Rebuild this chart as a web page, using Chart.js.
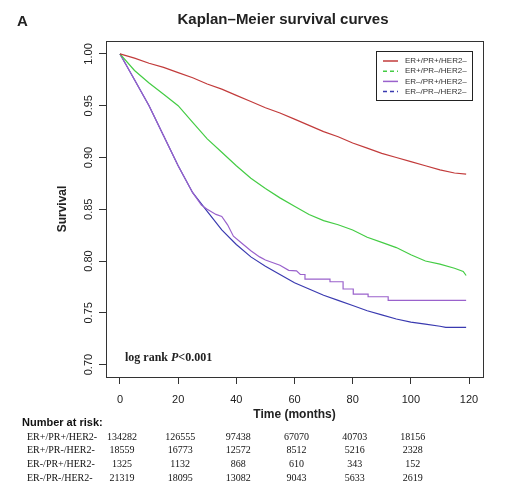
<!DOCTYPE html>
<html>
<head>
<meta charset="utf-8">
<script src="https://cdn.jsdelivr.net/npm/chart.js@4"></script>
<style>
  html, body { margin: 0; padding: 0; background: #fff; }
  #wrap { width: 505px; height: 489px; }
</style>
</head>
<body>
<div id="wrap"><canvas id="km"></canvas></div>
<script>
// Survival estimates (months, survival)
const redT = [0, 5, 10, 15, 20, 25, 30, 35, 40, 45, 50, 55, 60, 65, 70, 75, 80, 85, 90, 95, 100, 105, 110, 115, 119];
const redS = [1.0, 0.996, 0.991, 0.987, 0.982, 0.977, 0.971, 0.966, 0.960, 0.954, 0.948, 0.943, 0.937, 0.931, 0.925, 0.920, 0.914, 0.909, 0.904, 0.900, 0.896, 0.892, 0.888, 0.885, 0.884];

const greenT = [0, 5, 10, 15, 20, 25, 30, 35, 40, 45, 50, 55, 60, 65, 70, 75, 80, 85, 90, 95, 100, 105, 110, 115, 118, 119];
const greenS = [1.0, 0.984, 0.972, 0.961, 0.950, 0.934, 0.918, 0.905, 0.892, 0.880, 0.870, 0.861, 0.853, 0.845, 0.839, 0.835, 0.830, 0.823, 0.818, 0.813, 0.806, 0.800, 0.797, 0.793, 0.790, 0.786];

// purple has visible jumps late on: repeated times mark the vertical drops
const purpleT = [0, 2, 5, 10, 15, 20, 25, 28, 30, 33, 35, 37, 39, 42, 45, 48, 50, 55, 58, 60.7, 62, 63.6, 63.6, 72.2, 72.2, 76.7, 76.7, 80.2, 80.2, 85.3, 85.3, 92.2, 92.2, 119];
const purpleS = [1.0, 0.99, 0.975, 0.950, 0.921, 0.892, 0.866, 0.854, 0.850, 0.845, 0.843, 0.835, 0.824, 0.817, 0.810, 0.804, 0.801, 0.796, 0.791, 0.7905, 0.787, 0.787, 0.7825, 0.7825, 0.780, 0.780, 0.773, 0.773, 0.768, 0.768, 0.7655, 0.7655, 0.762, 0.762];

const blueT = [0, 2, 5, 10, 15, 20, 25, 30, 35, 40, 45, 50, 55, 60, 65, 70, 75, 80, 85, 90, 95, 100, 105, 110, 112, 119];
const blueS = [1.0, 0.99, 0.975, 0.950, 0.921, 0.892, 0.866, 0.848, 0.830, 0.816, 0.804, 0.795, 0.787, 0.779, 0.773, 0.767, 0.762, 0.757, 0.752, 0.748, 0.744, 0.741, 0.739, 0.737, 0.736, 0.736];

const groups = ["ER+/PR+/HER2-", "ER+/PR-/HER2-", "ER-/PR+/HER2-", "ER-/PR-/HER2-"];
const legendLabels = ["ER+/PR+/HER2\u2013", "ER+/PR\u2013/HER2\u2013", "ER\u2013/PR+/HER2\u2013", "ER\u2013/PR\u2013/HER2\u2013"];
const colors = ["#c23b3b", "#44cc44", "#9a62cc", "#3a3ab0"];
const legendDash = [[], [4, 3], [], [4, 3]];

const xTicks = [0, 20, 40, 60, 80, 100, 120];
const yTicks = [0.70, 0.75, 0.80, 0.85, 0.90, 0.95, 1.00];

// Number at risk table
const riskTimes = [0, 20, 40, 60, 80, 100];
const riskRed = [134282, 126555, 97438, 67070, 40703, 18156];
const riskGreen = [18559, 16773, 12572, 8512, 5216, 2328];
const riskPurple = [1325, 1132, 868, 610, 343, 152];
const riskBlue = [21319, 18095, 13082, 9043, 5633, 2619];

const pts = (t, s) => t.map((v, i) => ({ x: v, y: s[i] }));
const sans = "'Liberation Sans', Arial, sans-serif";
const serif = "'Liberation Serif', 'Times New Roman', serif";

// Draws the R-like frame, titles, legend and at-risk table
const decorations = {
  id: "decorations",
  afterDraw(chart) {
    const { ctx, chartArea: a, scales } = chart;
    const xs = scales.x, ys = scales.y;
    ctx.save();

    // plot box
    ctx.strokeStyle = "#333";
    ctx.lineWidth = 1;
    ctx.strokeRect(a.left + 0.5, a.top + 0.5, a.right - a.left, a.bottom - a.top);

    // y tick labels, rotated like R
    ctx.fillStyle = "#222";
    ctx.font = "11px " + sans;
    ctx.textAlign = "center";
    ctx.textBaseline = "middle";
    yTicks.forEach((v) => {
      ctx.save();
      ctx.translate(89, ys.getPixelForValue(v));
      ctx.rotate(-Math.PI / 2);
      ctx.fillText(v.toFixed(2), 0, 0);
      ctx.restore();
    });

    // axis titles
    ctx.font = "bold 12px " + sans;
    ctx.save();
    ctx.translate(63, (a.top + a.bottom) / 2);
    ctx.rotate(-Math.PI / 2);
    ctx.fillText("Survival", 0, 0);
    ctx.restore();
    ctx.fillText("Time (months)", (a.left + a.right) / 2, 415);

    // main title and panel letter
    ctx.font = "bold 15px " + sans;
    ctx.fillText("Kaplan\u2013Meier survival curves", 283, 20);
    ctx.textAlign = "left";
    ctx.fillText("A", 17, 22);

    // log rank annotation
    ctx.font = "bold 12px " + serif;
    const lx = 125, ly = 358;
    ctx.fillText("log rank ", lx, ly);
    let w = ctx.measureText("log rank ").width;
    ctx.font = "italic bold 12px " + serif;
    ctx.fillText("P", lx + w, ly);
    w += ctx.measureText("P").width;
    ctx.font = "bold 12px " + serif;
    ctx.fillText("<0.001", lx + w, ly);

    // legend
    const bx = 376, by = 51, bw = 96, bh = 49;
    ctx.fillStyle = "#fff";
    ctx.fillRect(bx, by, bw, bh);
    ctx.strokeStyle = "#222";
    ctx.strokeRect(bx + 0.5, by + 0.5, bw, bh);
    ctx.font = "8px " + sans;
    ctx.textBaseline = "middle";
    legendLabels.forEach((lab, i) => {
      const yy = 61 + i * 10.2;
      ctx.strokeStyle = colors[i];
      ctx.lineWidth = 1.5;
      ctx.setLineDash(legendDash[i]);
      ctx.beginPath();
      ctx.moveTo(383, yy);
      ctx.lineTo(398, yy);
      ctx.stroke();
      ctx.setLineDash([]);
      ctx.fillStyle = "#333";
      ctx.fillText(lab, 405, yy);
    });

    // number at risk
    ctx.fillStyle = "#111";
    ctx.font = "bold 11px " + sans;
    ctx.fillText("Number at risk:", 22, 423);
    const rows = [riskRed, riskGreen, riskPurple, riskBlue];
    ctx.font = "10px " + serif;
    rows.forEach((row, r) => {
      const yy = 437 + r * 13.8;
      ctx.textAlign = "left";
      ctx.fillText(groups[r], 27, yy);
      ctx.textAlign = "center";
      row.forEach((n, i) => {
        ctx.fillText(String(n), xs.getPixelForValue(riskTimes[i]) + 2, yy);
      });
    });

    ctx.restore();
  },
};

const series = [pts(redT, redS), pts(greenT, greenS), pts(purpleT, purpleS), pts(blueT, blueS)];

new Chart(document.getElementById("km"), {
  type: "line",
  data: {
    datasets: series.map((d, i) => ({
      label: groups[i],
      data: d,
      borderColor: colors[i],
      borderWidth: 1.2,
      pointRadius: 0,
      tension: 0,
      fill: false,
    })),
  },
  options: {
    responsive: true,
    maintainAspectRatio: false,
    animation: false,
    layout: { padding: { top: 41, right: 22, left: 0, bottom: 0 } },
    plugins: { legend: { display: false }, tooltip: { enabled: false } },
    scales: {
      x: {
        type: "linear",
        min: -4.8,
        max: 124.8,
        afterBuildTicks: (s) => { s.ticks = xTicks.map((v) => ({ value: v })); },
        afterFit: (s) => { s.height = 112; },
        border: { display: false },
        grid: { drawOnChartArea: false, drawTicks: true, tickLength: 7, color: "#333" },
        ticks: { padding: 9, color: "#222", font: { family: sans, size: 11 }, maxRotation: 0 },
      },
      y: {
        type: "linear",
        min: 0.688,
        max: 1.0125,
        afterBuildTicks: (s) => { s.ticks = yTicks.map((v) => ({ value: v })); },
        afterFit: (s) => { s.width = 106; },
        border: { display: false },
        grid: { drawOnChartArea: false, drawTicks: true, tickLength: 7, color: "#333" },
        ticks: { display: false },
      },
    },
  },
  plugins: [decorations],
});
</script>
</body>
</html>
